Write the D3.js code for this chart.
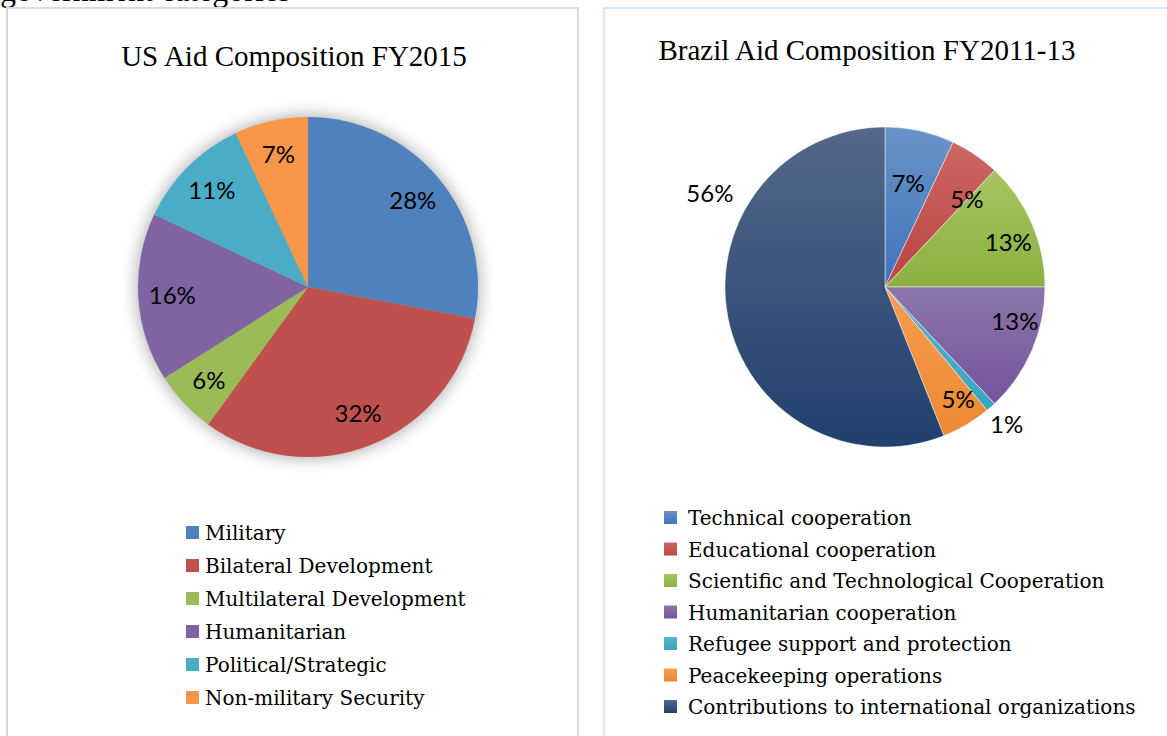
<!DOCTYPE html>
<html>
<head>
<meta charset="utf-8">
<script src="https://cdn.jsdelivr.net/npm/d3@7"></script>
<style>
  body { margin: 0; background: #fff; }
  svg { display: block; }
</style>
</head>
<body>
<script>
// values (percent)
var usCategories = ["Military", "Bilateral Development", "Multilateral Development",
  "Humanitarian", "Political/Strategic", "Non-military Security"];
var usValues = [28, 32, 6, 16, 11, 7];

var brCategories = ["Technical cooperation", "Educational cooperation",
  "Scientific and Technological Cooperation", "Humanitarian cooperation",
  "Refugee support and protection", "Peacekeeping operations",
  "Contributions to international organizations"];
var brValues = [7, 5, 13, 13, 1, 5, 56];

var usColors = ["#4f81bd", "#c0504d", "#9bbb59", "#8064a2", "#4bacc6", "#f79646"];
var brTop = ["#6a93c8", "#cc6662", "#a6c563", "#8c76aa", "#56b4cc", "#f99c4e", "#54688a"];
var brBottom = ["#3f74ba", "#bb4541", "#8bb041", "#74539d", "#38a4c1", "#ec8a33", "#20406d"];

var width = 1167;
var height = 736;

var svg = d3.select("body").append("svg")
    .attr("width", width)
    .attr("height", height);

var defs = svg.append("defs");

// text cut off at the top of the page (as in the source)
svg.append("text")
    .attr("x", 0)
    .attr("y", 1)
    .style("font-family", "'Liberation Serif', 'Times New Roman', serif")
    .style("font-size", "32px")
    .text("government categories");

// the two chart frames
svg.append("rect")
    .attr("x", 7).attr("y", 8)
    .attr("width", 571).attr("height", 740)
    .attr("fill", "#fff")
    .attr("stroke", "#d9d9d9").attr("stroke-width", 2);

svg.append("rect")
    .attr("x", 604).attr("y", 8)
    .attr("width", 580).attr("height", 740)
    .attr("fill", "#fff")
    .attr("stroke", "#dbe5f4").attr("stroke-width", 2);

var titleFont = "'Liberation Serif', 'Times New Roman', serif";
var labelFont = "Lato, 'Open Sans', sans-serif";
var legendFont = "'DejaVu Serif', serif";

var pie = d3.pie().sort(null).value(function(d) { return d; });

// ---------- US chart ----------
var us = svg.append("g");
us.append("text")
    .attr("x", 294).attr("y", 66)
    .attr("text-anchor", "middle")
    .style("font-family", titleFont)
    .style("font-size", "29px")
    .text("US Aid Composition FY2015");

var usR = 170;
var usG = us.append("g").attr("transform", "translate(308,287)");

var shadow = defs.append("filter").attr("id", "shadow")
    .attr("x", "-30%").attr("y", "-30%").attr("width", "160%").attr("height", "160%");
shadow.append("feGaussianBlur").attr("stdDeviation", 8);

usG.append("circle")
    .attr("r", usR + 2)
    .attr("fill", "#000")
    .attr("opacity", 0.3)
    .attr("filter", "url(#shadow)");

var usArc = d3.arc().innerRadius(0).outerRadius(usR);
var usLabelArc = d3.arc().innerRadius(usR * 0.8).outerRadius(usR * 0.8);
var usSlices = pie(usValues);

usG.selectAll("path")
    .data(usSlices)
    .enter().append("path")
    .attr("d", usArc)
    .attr("fill", function(d, i) { return usColors[i]; });

usG.selectAll("text")
    .data(usSlices)
    .enter().append("text")
    .attr("transform", function(d) { return "translate(" + usLabelArc.centroid(d) + ")"; })
    .attr("text-anchor", "middle")
    .attr("dy", "0.35em")
    .style("font-family", labelFont)
    .style("font-size", "24px")
    .attr("fill", "#000")
    .text(function(d) { return d.value + "%"; });

var usLegend = us.selectAll(".usleg")
    .data(usCategories)
    .enter().append("g")
    .attr("class", "usleg")
    .attr("transform", function(d, i) { return "translate(186," + (533 + i * 33) + ")"; });
usLegend.append("rect")
    .attr("x", 0).attr("y", -7)
    .attr("width", 13).attr("height", 13)
    .attr("fill", function(d, i) { return usColors[i]; });
usLegend.append("text")
    .attr("x", 19)
    .attr("dy", "0.35em")
    .style("font-family", legendFont)
    .style("font-size", "20px")
    .text(function(d) { return d; });

// ---------- Brazil chart ----------
var br = svg.append("g");
br.append("text")
    .attr("x", 867).attr("y", 60)
    .attr("text-anchor", "middle")
    .style("font-family", titleFont)
    .style("font-size", "29px")
    .text("Brazil Aid Composition FY2011-13");

brCategories.forEach(function(c, i) {
  var g = defs.append("linearGradient")
      .attr("id", "brg" + i)
      .attr("x1", 0).attr("y1", 0).attr("x2", 0).attr("y2", 1);
  g.append("stop").attr("offset", "0%").attr("stop-color", brTop[i]);
  g.append("stop").attr("offset", "100%").attr("stop-color", brBottom[i]);
});

var brR = 160;
var brG = br.append("g").attr("transform", "translate(885,287)");
var brArc = d3.arc().innerRadius(0).outerRadius(brR);
var brSlices = pie(brValues);

brG.selectAll("path")
    .data(brSlices)
    .enter().append("path")
    .attr("d", brArc)
    .attr("fill", function(d, i) { return "url(#brg" + i + ")"; })
    .attr("stroke", "#fff")
    .attr("stroke-opacity", 0.6)
    .attr("stroke-width", 0.8);

// label placement like Excel's best fit: angle (deg, clockwise from top) and radius factor
var brLabelPlace = {0: {r: 0.66}, 1: {a: 43, r: 0.75}, 2: {a: 70, r: 0.82},
  3: {a: 105, r: 0.84}, 4: {r: 1.15}, 5: {a: 147, r: 0.84}, 6: {a: 298, r: 1.24}};

function brLabelPos(d, i) {
  var p = brLabelPlace[i] || {};
  var a = p.a != null ? p.a * Math.PI / 180 : (d.startAngle + d.endAngle) / 2;
  var rr = brR * (p.r != null ? p.r : 0.8);
  return [Math.sin(a) * rr, -Math.cos(a) * rr];
}

brG.selectAll("text")
    .data(brSlices)
    .enter().append("text")
    .attr("transform", function(d, i) { return "translate(" + brLabelPos(d, i) + ")"; })
    .attr("text-anchor", "middle")
    .attr("dy", "0.35em")
    .style("font-family", labelFont)
    .style("font-size", "24px")
    .attr("fill", "#000")
    .text(function(d) { return d.value + "%"; });

var brLegend = br.selectAll(".brleg")
    .data(brCategories)
    .enter().append("g")
    .attr("class", "brleg")
    .attr("transform", function(d, i) { return "translate(664," + (518 + i * 31.5) + ")"; });
brLegend.append("rect")
    .attr("x", 0).attr("y", -7)
    .attr("width", 13).attr("height", 13)
    .attr("fill", function(d, i) { return "url(#brg" + i + ")"; });
brLegend.append("text")
    .attr("x", 24)
    .attr("dy", "0.35em")
    .style("font-family", legendFont)
    .style("font-size", "20px")
    .text(function(d) { return d; });
</script>
</body>
</html>
